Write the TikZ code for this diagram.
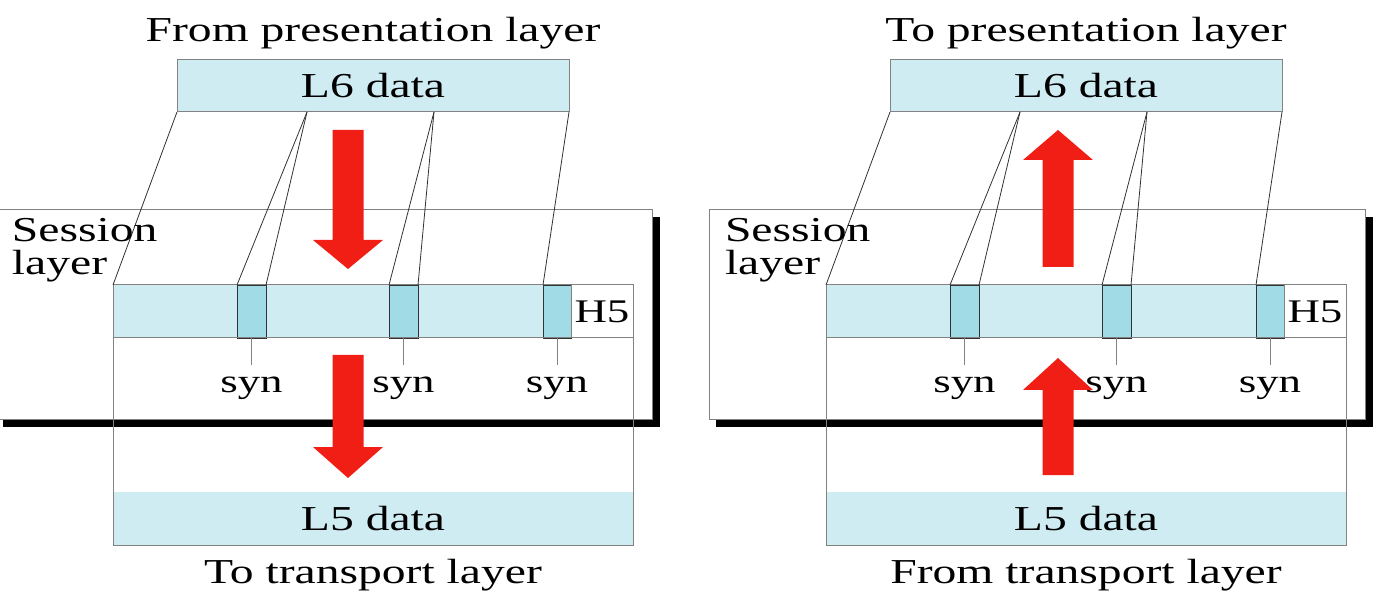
\documentclass[tikz,border=0pt]{standalone}
\usepackage{graphicx}
\usepackage{fontspec}
\setmainfont{Liberation Serif}
\definecolor{lblue}{RGB}{208,236,243}
\definecolor{dblue}{RGB}{160,219,230}
\definecolor{edgegray}{RGB}{130,130,130}
\definecolor{slantgray}{RGB}{50,50,50}
\definecolor{arrowred}{RGB}{240,30,20}
\newcommand{\stretchtxt}[1]{\scalebox{1.36}[1]{#1}}
\tikzset{
  every node/.style={inner sep=0pt, outer sep=0pt},
  bigfont/.style={font=\fontsize{35}{33}\selectfont},
  smallfont/.style={font=\fontsize{33}{33}\selectfont},
  bluebox/.style={draw=edgegray, line width=1pt, fill=lblue, anchor=north west, bigfont},
  segbox/.style={draw=slantgray, line width=0.8pt, fill=dblue, anchor=north west},
  whitebox/.style={draw=edgegray, line width=1pt, fill=white, anchor=north west},
  openbox/.style={draw=edgegray, line width=1pt, anchor=north west},
  slant/.style={draw=slantgray, line width=0.8pt},
  tick/.style={draw=edgegray, line width=1pt},
  redarrow/.style={fill=arrowred}
}
\begin{document}
\begin{tikzpicture}[x=1pt, y=-1pt]
\fill[white] (0,0) rectangle (1384,609);
\useasboundingbox (0,0) rectangle (1384,609);
\foreach \dx/\p/\toptext/\bottext in {0/L/From presentation layer/To transport layer, 713/R/To presentation layer/From transport layer}{
\begin{scope}[xshift=\dx pt]
  % session layer box with shadow
  \fill[black] (3,217) rectangle (660,427);
  \node[whitebox, minimum width=656pt, minimum height=209pt] (sess\p) at (-4,210) {};
  % lower box
  \node[openbox, minimum width=520pt, minimum height=207pt] (low\p) at (113,338) {};
  % L6 data box
  \node[bluebox, minimum width=392pt, minimum height=52pt] (l6\p) at (177,60) {\stretchtxt{L6 data}};
  % PDU
  \node[bluebox, minimum width=458pt, minimum height=53pt] (pdu\p) at (113,285) {};
  \node[segbox, minimum width=29pt, minimum height=53pt] (sa\p) at (237,285) {};
  \node[segbox, minimum width=29pt, minimum height=53pt] (sb\p) at (389,285) {};
  \node[segbox, minimum width=28pt, minimum height=53pt] (sc\p) at (543,285) {};
  \node[whitebox, smallfont, minimum width=62pt, minimum height=53pt] (h\p) at (571,285) {\stretchtxt{H5}};
  % L5 data band
  \node[bluebox, draw=none, minimum width=520pt, minimum height=53pt] (l5\p) at (113,492) {\stretchtxt{L5 data}};
  \draw[edgegray, line width=1pt] (low\p.north west) rectangle (low\p.south east);
  % slanted lines
  \coordinate (ua\p) at (307,112);
  \coordinate (ub\p) at (434,112);
  \draw[slant] (l6\p.south west) -- (pdu\p.north west);
  \draw[slant] (ua\p) -- (sa\p.north west);
  \draw[slant] (ua\p) -- (sa\p.north east);
  \draw[slant] (ub\p) -- (sb\p.north west);
  \draw[slant] (ub\p) -- (sb\p.north east);
  \draw[slant] (l6\p.south east) -- (sc\p.north west);
  % ticks and syn labels
  \coordinate (ta\p) at (251.5,365);
  \coordinate (tb\p) at (403.5,365);
  \coordinate (tc\p) at (557,365);
  \draw[tick] (sa\p.south) -- (ta\p);
  \draw[tick] (sb\p.south) -- (tb\p);
  \draw[tick] (sc\p.south) -- (tc\p);
  \node[smallfont, anchor=base] (syna\p) at (251.5,392) {\stretchtxt{syn}};
  \node[smallfont, anchor=base] (synb\p) at (403.5,392) {\stretchtxt{syn}};
  \node[smallfont, anchor=base] (sync\p) at (557,392) {\stretchtxt{syn}};
  % labels
  \node[bigfont, anchor=base west] (sessa\p) at (12,242) {\stretchtxt{Session}};
  \node[bigfont, anchor=base west] (sessb\p) at (12,275) {\stretchtxt{layer}};
  \node[bigfont, anchor=base] (top\p) at (373,42) {\stretchtxt{\toptext}};
  \node[bigfont, anchor=base] (bot\p) at (373,583) {\stretchtxt{\bottext}};
\end{scope}
}
% red arrows, left panel (down)
\fill[redarrow] (332.5,130) -- (363.5,130) -- (363.5,240) -- (383,240) -- (348,269) -- (313,240) -- (332.5,240) -- cycle;
\fill[redarrow] (332.5,355) -- (363.5,355) -- (363.5,447) -- (383,447) -- (348,478) -- (313,447) -- (332.5,447) -- cycle;
% red arrows, right panel (up)
\fill[redarrow] (1042.5,267) -- (1073.5,267) -- (1073.5,160) -- (1093,160) -- (1058,130) -- (1023,160) -- (1042.5,160) -- cycle;
\fill[redarrow] (1042.5,475) -- (1073.5,475) -- (1073.5,390) -- (1093,390) -- (1058,358) -- (1023,390) -- (1042.5,390) -- cycle;
\end{tikzpicture}
\end{document}
